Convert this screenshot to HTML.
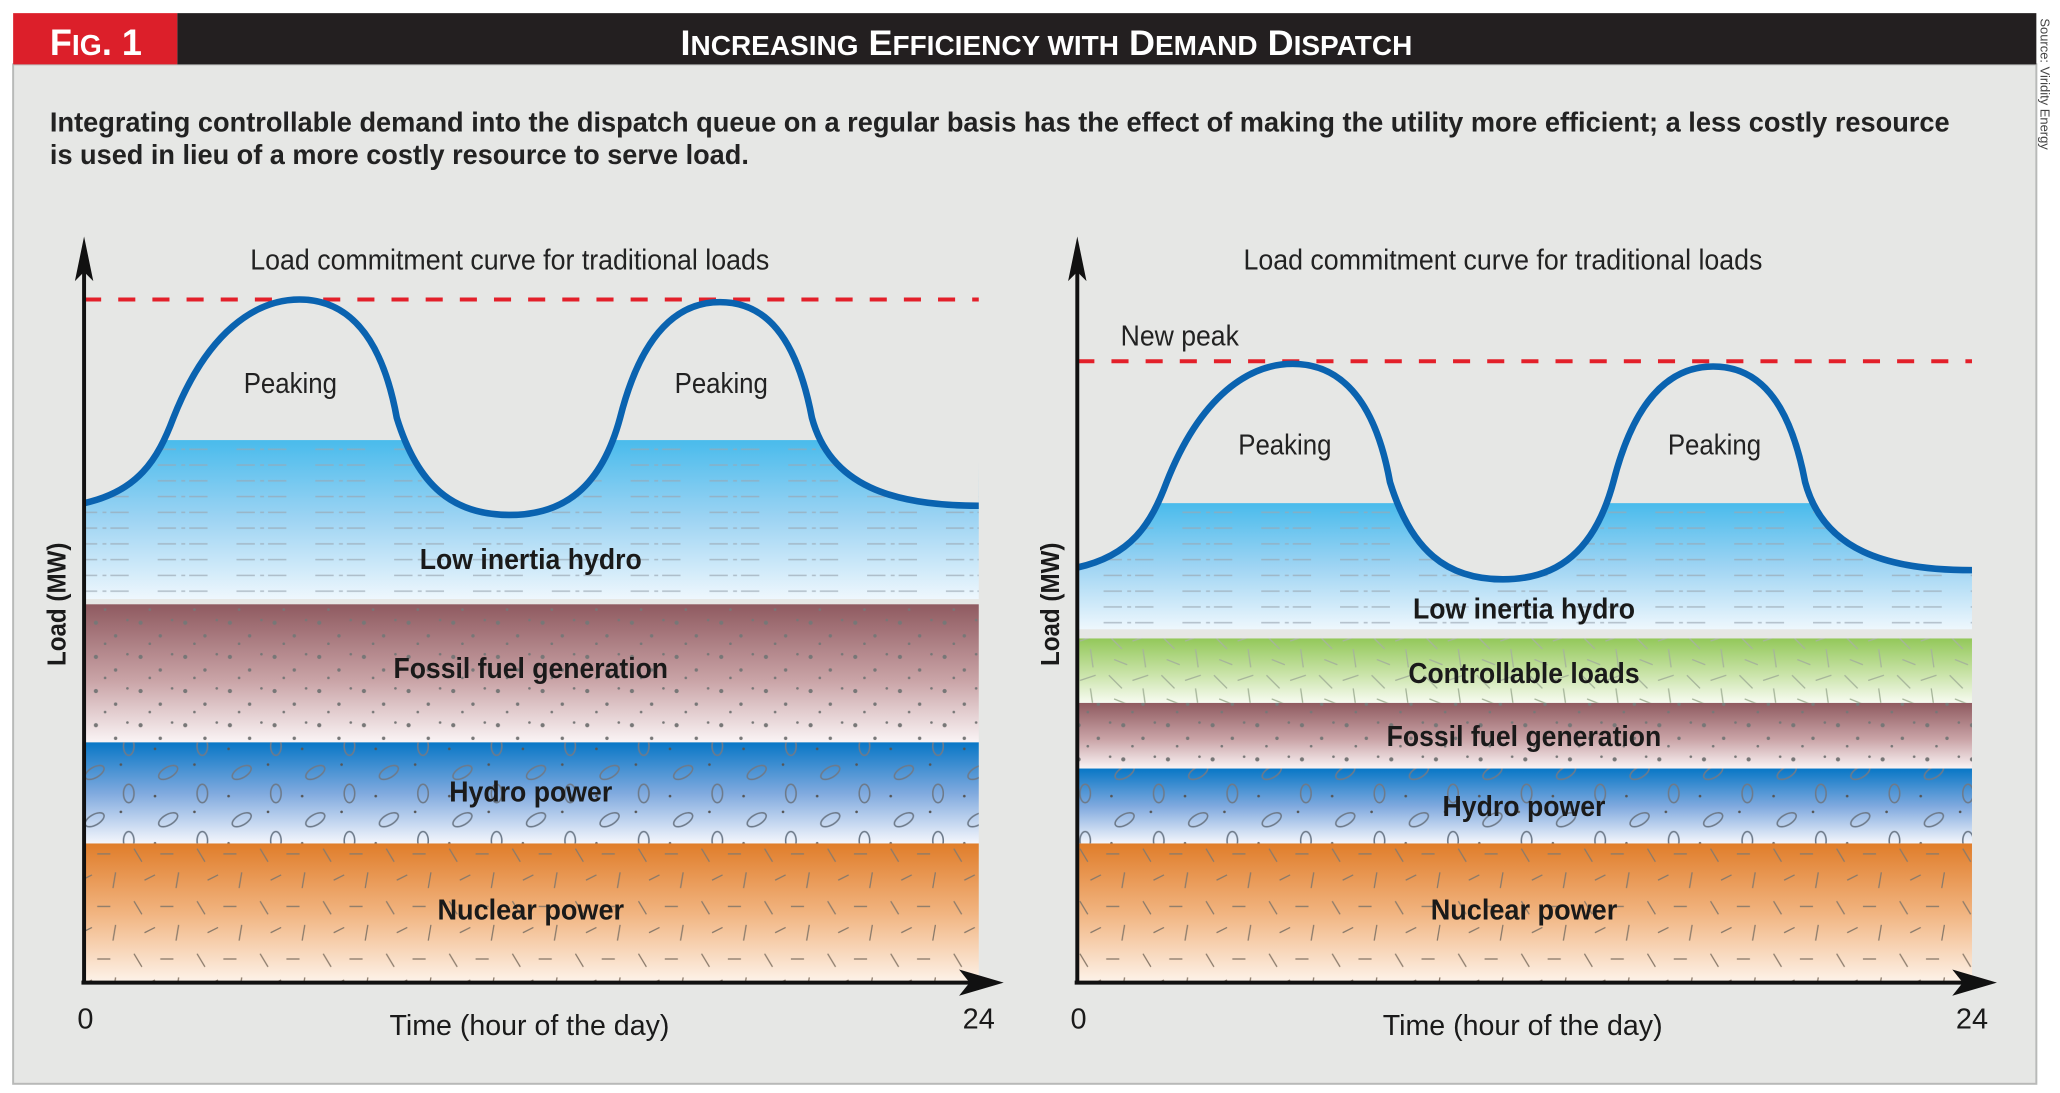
<!DOCTYPE html>
<html><head><meta charset="utf-8"><style>
html,body{margin:0;padding:0;background:#fff;}
svg{display:block}
text{font-family:"Liberation Sans",sans-serif;}
</style></head><body>
<svg width="2060" height="1093" viewBox="0 0 1568 832" preserveAspectRatio="none" xmlns="http://www.w3.org/2000/svg">
<defs>
<linearGradient id="gNuc" x1="0" y1="0" x2="0" y2="1"><stop offset="0" stop-color="#e07d2a"/><stop offset="0.5" stop-color="#f1b480"/><stop offset="1" stop-color="#fdf3ea"/></linearGradient>
<linearGradient id="gHyd" x1="0" y1="0" x2="0" y2="1"><stop offset="0" stop-color="#0877c6"/><stop offset="0.5" stop-color="#7fa9de"/><stop offset="1" stop-color="#f4f6fc"/></linearGradient>
<linearGradient id="gFos" x1="0" y1="0" x2="0" y2="1"><stop offset="0" stop-color="#8f5a60"/><stop offset="0.55" stop-color="#c9a3a6"/><stop offset="1" stop-color="#faf4f5"/></linearGradient>
<linearGradient id="gLow" x1="0" y1="0" x2="0" y2="1"><stop offset="0" stop-color="#49bbec"/><stop offset="0.5" stop-color="#9ed4f3"/><stop offset="1" stop-color="#eef7fd"/></linearGradient>
<linearGradient id="gCtl" x1="0" y1="0" x2="0" y2="1"><stop offset="0" stop-color="#93c85a"/><stop offset="0.55" stop-color="#c9e3a8"/><stop offset="1" stop-color="#f7fbf1"/></linearGradient>
<pattern id="pLines" width="60" height="12" patternUnits="userSpaceOnUse"><line x1="0" y1="6" x2="40" y2="6" stroke="#9aa7b2" stroke-width="1.2" stroke-dasharray="14 4 3 3" opacity="0.7"/></pattern>
<pattern id="pDots" width="34" height="26" patternUnits="userSpaceOnUse"><circle cx="5" cy="6" r="1.6" fill="#777"/><circle cx="20" cy="16" r="1.3" fill="#777"/><circle cx="29" cy="4" r="1" fill="#777"/><circle cx="12" cy="22" r="1" fill="#777"/></pattern>
<pattern id="pOval" width="56" height="36" patternUnits="userSpaceOnUse"><ellipse cx="16" cy="12" rx="8" ry="4" fill="none" stroke="#6d7a8a" stroke-width="1.2" transform="rotate(-30 16 12)"/><ellipse cx="42" cy="28" rx="4" ry="7" fill="none" stroke="#6d7a8a" stroke-width="1.2"/><circle cx="36" cy="6" r="1" fill="#555"/><circle cx="6" cy="30" r="1" fill="#555"/></pattern>
<pattern id="pDash" width="48" height="40" patternUnits="userSpaceOnUse"><line x1="6" y1="6" x2="12" y2="16" stroke="#8a7a6a" stroke-width="1"/><line x1="26" y1="10" x2="36" y2="10" stroke="#8a7a6a" stroke-width="1"/><line x1="40" y1="24" x2="38" y2="36" stroke="#8a7a6a" stroke-width="1"/><line x1="14" y1="30" x2="22" y2="26" stroke="#8a7a6a" stroke-width="1"/></pattern>
<pattern id="pHair" width="40" height="30" patternUnits="userSpaceOnUse"><line x1="4" y1="4" x2="14" y2="14" stroke="#a6b59a" stroke-width="1"/><line x1="22" y1="8" x2="34" y2="4" stroke="#a6b59a" stroke-width="1"/><line x1="30" y1="14" x2="32" y2="28" stroke="#a6b59a" stroke-width="1"/><line x1="8" y1="22" x2="18" y2="26" stroke="#a6b59a" stroke-width="1"/></pattern>
<path id="curve" d="M64,383 C105,374 120,350 132,318 C158,252 195,228 228,228 C262,228 290,252 302,318 C318,370 345,392 388,392 C430,392 458,370 472,318 C488,255 515,230 548,230 C582,230 606,255 618,318 C632,370 680,385 745,385"/>
</defs>
<rect x="10" y="49" width="1540" height="776" fill="#e6e7e5" stroke="#b8b9b8" stroke-width="1.5"/>
<rect x="10" y="10" width="125" height="39" fill="#dc1f2a"/>
<rect x="135" y="10" width="1415" height="39" fill="#231f20"/>
<text x="38" y="42" fill="#fff" font-weight="bold" font-size="28" textLength="70" lengthAdjust="spacingAndGlyphs">F<tspan font-size="22">IG</tspan>. 1</text>
<text x="518" y="42" fill="#fff" font-weight="bold" font-size="27" textLength="557" lengthAdjust="spacingAndGlyphs">I<tspan font-size="21">NCREASING</tspan> E<tspan font-size="21">FFICIENCY WITH</tspan> D<tspan font-size="21">EMAND</tspan> D<tspan font-size="21">ISPATCH</tspan></text>
<text transform="translate(1553,14) rotate(90)" font-size="10" fill="#444" textLength="100" lengthAdjust="spacingAndGlyphs">Source: Viridity Energy</text>
<text x="38" y="100" font-size="21" font-weight="bold" fill="#222" textLength="1446" lengthAdjust="spacingAndGlyphs">Integrating controllable demand into the dispatch queue on a regular basis has the effect of making the utility more efficient; a less costly resource</text>
<text x="38" y="125" font-size="21" font-weight="bold" fill="#222" textLength="532" lengthAdjust="spacingAndGlyphs">is used in lieu of a more costly resource to serve load.</text>

<rect x="64" y="642" width="681" height="106" fill="url(#gNuc)"/><rect x="64" y="642" width="681" height="106" fill="url(#pDash)"/>
<rect x="64" y="565" width="681" height="77" fill="url(#gHyd)"/><rect x="64" y="565" width="681" height="77" fill="url(#pOval)"/>
<rect x="64" y="460" width="681" height="105" fill="url(#gFos)"/><rect x="64" y="460" width="681" height="105" fill="url(#pDots)"/>
<rect x="64" y="335" width="681" height="121" fill="url(#gLow)"/><rect x="64" y="335" width="681" height="121" fill="url(#pLines)"/>
<path d="M64,383 C105,374 120,350 132,318 C158,252 195,228 228,228 C262,228 290,252 302,318 C318,370 345,392 388,392 C430,392 458,370 472,318 C488,255 515,230 548,230 C582,230 606,255 618,318 C632,370 680,385 745,385 L746,200 L64,200 Z" fill="#e6e7e5"/>
<line x1="64" y1="228" x2="745" y2="228" stroke="#e3202a" stroke-width="3" stroke-dasharray="13 13"/>
<use href="#curve" fill="none" stroke="#0a63b0" stroke-width="5"/>
<line x1="64" y1="748" x2="64" y2="200" stroke="#111" stroke-width="3"/>
<path d="M64,180 L57,214 L64,207 L71,214 Z" fill="#111"/>
<line x1="62" y1="748" x2="745" y2="748" stroke="#111" stroke-width="3"/>
<path d="M764,748 L730,738 L738,748 L730,758 Z" fill="#111"/>
<text x="388" y="205" font-size="22" fill="#222" text-anchor="middle" textLength="395" lengthAdjust="spacingAndGlyphs">Load commitment curve for traditional loads</text>
<text x="221" y="299" font-size="22" fill="#222" text-anchor="middle" textLength="71" lengthAdjust="spacingAndGlyphs">Peaking</text>
<text x="549" y="299" font-size="22" fill="#222" text-anchor="middle" textLength="71" lengthAdjust="spacingAndGlyphs">Peaking</text>
<g font-size="22" font-weight="bold" fill="#1a1a1a" text-anchor="middle">
<text x="404" y="433" textLength="169" lengthAdjust="spacingAndGlyphs">Low inertia hydro</text>
<text x="404" y="516" textLength="209" lengthAdjust="spacingAndGlyphs">Fossil fuel generation</text>
<text x="404" y="610" textLength="124" lengthAdjust="spacingAndGlyphs">Hydro power</text>
<text x="404" y="700" textLength="142" lengthAdjust="spacingAndGlyphs">Nuclear power</text>
<text x="403" y="788" font-weight="normal" textLength="213" lengthAdjust="spacingAndGlyphs">Time (hour of the day)</text>
<text x="65" y="783" font-weight="normal">0</text>
<text x="745" y="783" font-weight="normal">24</text>
<text transform="translate(50,460) rotate(-90)" font-size="20" textLength="94" lengthAdjust="spacingAndGlyphs">Load (MW)</text>
</g>

<rect x="820" y="642" width="681" height="106" fill="url(#gNuc)"/><rect x="820" y="642" width="681" height="106" fill="url(#pDash)"/>
<rect x="820" y="585" width="681" height="57" fill="url(#gHyd)"/><rect x="820" y="585" width="681" height="57" fill="url(#pOval)"/>
<rect x="820" y="535" width="681" height="50" fill="url(#gFos)"/><rect x="820" y="535" width="681" height="50" fill="url(#pDots)"/>
<rect x="820" y="486" width="681" height="49" fill="url(#gCtl)"/><rect x="820" y="486" width="681" height="49" fill="url(#pHair)"/>
<rect x="820" y="383" width="681" height="96" fill="url(#gLow)"/><rect x="820" y="383" width="681" height="96" fill="url(#pLines)"/>
<g transform="translate(756,49)">
<path d="M64,383 C105,374 120,350 132,318 C158,252 195,228 228,228 C262,228 290,252 302,318 C318,370 345,392 388,392 C430,392 458,370 472,318 C488,255 515,230 548,230 C582,230 606,255 618,318 C632,370 680,385 745,385 L746,240 L64,240 Z" fill="#e6e7e5"/>
</g>
<line x1="820" y1="275" x2="1501" y2="275" stroke="#e3202a" stroke-width="3" stroke-dasharray="13 13"/>
<g transform="translate(756,49)"><use href="#curve" fill="none" stroke="#0a63b0" stroke-width="5"/></g>
<line x1="820" y1="748" x2="820" y2="200" stroke="#111" stroke-width="3"/>
<path d="M820,180 L813,214 L820,207 L827,214 Z" fill="#111"/>
<line x1="818" y1="748" x2="1501" y2="748" stroke="#111" stroke-width="3"/>
<path d="M1520,748 L1486,738 L1494,748 L1486,758 Z" fill="#111"/>
<text x="1144" y="205" font-size="22" fill="#222" text-anchor="middle" textLength="395" lengthAdjust="spacingAndGlyphs">Load commitment curve for traditional loads</text>
<text x="853" y="263" font-size="22" fill="#222" textLength="90" lengthAdjust="spacingAndGlyphs">New peak</text>
<text x="978" y="346" font-size="22" fill="#222" text-anchor="middle" textLength="71" lengthAdjust="spacingAndGlyphs">Peaking</text>
<text x="1305" y="346" font-size="22" fill="#222" text-anchor="middle" textLength="71" lengthAdjust="spacingAndGlyphs">Peaking</text>
<g font-size="22" font-weight="bold" fill="#1a1a1a" text-anchor="middle">
<text x="1160" y="471" textLength="169" lengthAdjust="spacingAndGlyphs">Low inertia hydro</text>
<text x="1160" y="520" textLength="176" lengthAdjust="spacingAndGlyphs">Controllable loads</text>
<text x="1160" y="568" textLength="209" lengthAdjust="spacingAndGlyphs">Fossil fuel generation</text>
<text x="1160" y="621" textLength="124" lengthAdjust="spacingAndGlyphs">Hydro power</text>
<text x="1160" y="700" textLength="142" lengthAdjust="spacingAndGlyphs">Nuclear power</text>
<text x="1159" y="788" font-weight="normal" textLength="213" lengthAdjust="spacingAndGlyphs">Time (hour of the day)</text>
<text x="821" y="783" font-weight="normal">0</text>
<text x="1501" y="783" font-weight="normal">24</text>
<text transform="translate(806,460) rotate(-90)" font-size="20" textLength="94" lengthAdjust="spacingAndGlyphs">Load (MW)</text>
</g>
</svg>
</body></html>
